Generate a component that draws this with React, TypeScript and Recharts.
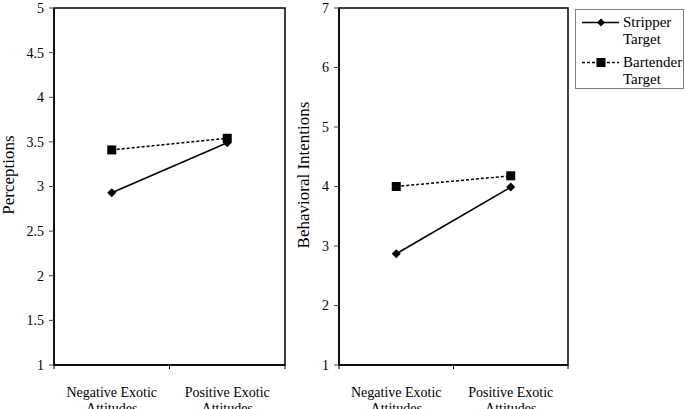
import { LineChart, Line, XAxis, YAxis, ReferenceArea, Legend } from "recharts";

const FONT = "'Liberation Serif', 'Times New Roman', serif";

const categories = ["Negative Exotic|Attitudes", "Positive Exotic|Attitudes"];
const seriesNames = ["Stripper|Target", "Bartender|Target"];

const perceptionStripper = [2.93, 3.49];
const perceptionBartender = [3.41, 3.54];
const intentionStripper = [2.87, 3.99];
const intentionBartender = [4.0, 4.18];

const perceptionTicks = [1, 1.5, 2, 2.5, 3, 3.5, 4, 4.5, 5];
const intentionTicks = [1, 2, 3, 4, 5, 6, 7];
const xTicks = [0, 0.5, 1, 1.5, 2];

const build = (stripper: number[], bartender: number[]) =>
  categories.map((c, i) => ({ x: i + 0.5, name: c, stripper: stripper[i], bartender: bartender[i] }));

const perceptionData = build(perceptionStripper, perceptionBartender);
const intentionData = build(intentionStripper, intentionBartender);

function XTick(props: any) {
  const { x, y, payload } = props;
  const v = payload.value as number;
  if (Number.isInteger(v)) {
    return <line x1={x} x2={x} y1={y - 8} y2={y - 4} stroke="#000" strokeWidth={1} />;
  }
  const [l1, l2] = categories[Math.floor(v)].split("|");
  return (
    <text x={x} y={y} textAnchor="middle" fontSize={14} fill="#000" style={{ fontFamily: FONT }}>
      <tspan x={x} dy={24}>{l1}</tspan>
      <tspan x={x} dy={16}>{l2}</tspan>
    </text>
  );
}

function Diamond(props: any) {
  const { cx, cy } = props;
  if (cx == null || cy == null) return null;
  const r = 4.5;
  return <path d={`M${cx},${cy - r}L${cx + r},${cy}L${cx},${cy + r}L${cx - r},${cy}Z`} fill="#000" />;
}

function Square(props: any) {
  const { cx, cy } = props;
  if (cx == null || cy == null) return null;
  return <rect x={cx - 4.5} y={cy - 4.5} width={9} height={9} fill="#000" />;
}

function AxisTitle({ viewBox, value, dx }: any) {
  const cx = viewBox.x + dx;
  const cy = 175;
  return (
    <text x={cx} y={cy} transform={`rotate(-90, ${cx}, ${cy})`} textAnchor="middle" fontSize={17} fill="#000" style={{ fontFamily: FONT }}>
      {value}
    </text>
  );
}

function LegendBox() {
  const items = [
    { name: seriesNames[0], dash: undefined, marker: "diamond" },
    { name: seriesNames[1], dash: "3 2", marker: "square" },
  ];
  return (
    <div style={{ border: "1px solid #808080", width: 109, height: 80, boxSizing: "border-box", paddingTop: 4, fontFamily: FONT, fontSize: 15, lineHeight: "17px", background: "#fff" }}>
      {items.map((it) => {
        const [l1, l2] = it.name.split("|");
        return (
          <div key={l1} style={{ position: "relative", height: 36, marginBottom: 4 }}>
            <svg width={40} height={17} style={{ position: "absolute", left: 5, top: 0 }}>
              <line x1={1} x2={38} y1={8.5} y2={8.5} stroke="#000" strokeWidth={1.5} strokeDasharray={it.dash} />
              {it.marker === "diamond" ? (
                <path d="M20,4.5L24,8.5L20,12.5L16,8.5Z" fill="#000" />
              ) : (
                <rect x={15.5} y={4} width={9} height={9} fill="#000" />
              )}
            </svg>
            <div style={{ position: "absolute", left: 47, top: 0 }}>
              {l1}
              <br />
              {l2}
            </div>
          </div>
        );
      })}
    </div>
  );
}

function Panel({ data, ticks, domain, title, titleDx, width, yWidth, marginRight, legend }: any) {
  return (
    <LineChart width={width} height={409} data={data} margin={{ top: 8, right: marginRight, bottom: 0, left: 0 }}>
      <XAxis
        dataKey="x"
        type="number"
        domain={[0, 2]}
        ticks={xTicks}
        interval={0}
        tickSize={4}
        tickMargin={4}
        tickLine={false}
        tick={<XTick />}
        height={44}
        axisLine={{ stroke: "#000", strokeWidth: 1.5 }}
      />
      <YAxis
        type="number"
        domain={domain}
        ticks={ticks}
        interval={0}
        width={yWidth}
        tickSize={5}
        tickMargin={5}
        tickLine={{ stroke: "#444", strokeWidth: 1 }}
        axisLine={{ stroke: "#000", strokeWidth: 1.5 }}
        tick={{ fontSize: 14, fill: "#000", style: { fontFamily: FONT } }}
        label={(p: any) => <AxisTitle {...p} value={title} dx={titleDx} />}
      />
      <ReferenceArea x1={0} x2={2} y1={domain[0]} y2={domain[1]} fill="none" stroke="#000" strokeWidth={1.5} />
      {legend && (
        <Legend
          layout="vertical"
          align="center"
          verticalAlign="middle"
          content={<LegendBox />}
          wrapperStyle={{ left: 285, top: 9, width: 109, height: 80 }}
        />
      )}
      <Line
        dataKey="bartender"
        stroke="#000"
        strokeWidth={1.5}
        strokeDasharray="3 2"
        dot={<Square />}
        isAnimationActive={false}
      />
      <Line dataKey="stripper" stroke="#000" strokeWidth={1.5} dot={<Diamond />} isAnimationActive={false} />
    </LineChart>
  );
}

export default function App() {
  return (
    <div style={{ position: "absolute", left: 0, top: 0, width: 685, height: 409, background: "#fff", fontFamily: FONT }}>
      <div style={{ position: "absolute", left: 0, top: 0 }}>
        <Panel
          data={perceptionData}
          ticks={perceptionTicks}
          domain={[1, 5]}
          title="Perceptions"
          titleDx={14}
          width={290}
          yWidth={54}
          marginRight={5}
        />
      </div>
      <div style={{ position: "absolute", left: 290, top: 0 }}>
        <Panel
          data={intentionData}
          ticks={intentionTicks}
          domain={[1, 7]}
          title="Behavioral Intentions"
          titleDx={19}
          width={395}
          yWidth={49}
          marginRight={117}
          legend
        />
      </div>
    </div>
  );
}
